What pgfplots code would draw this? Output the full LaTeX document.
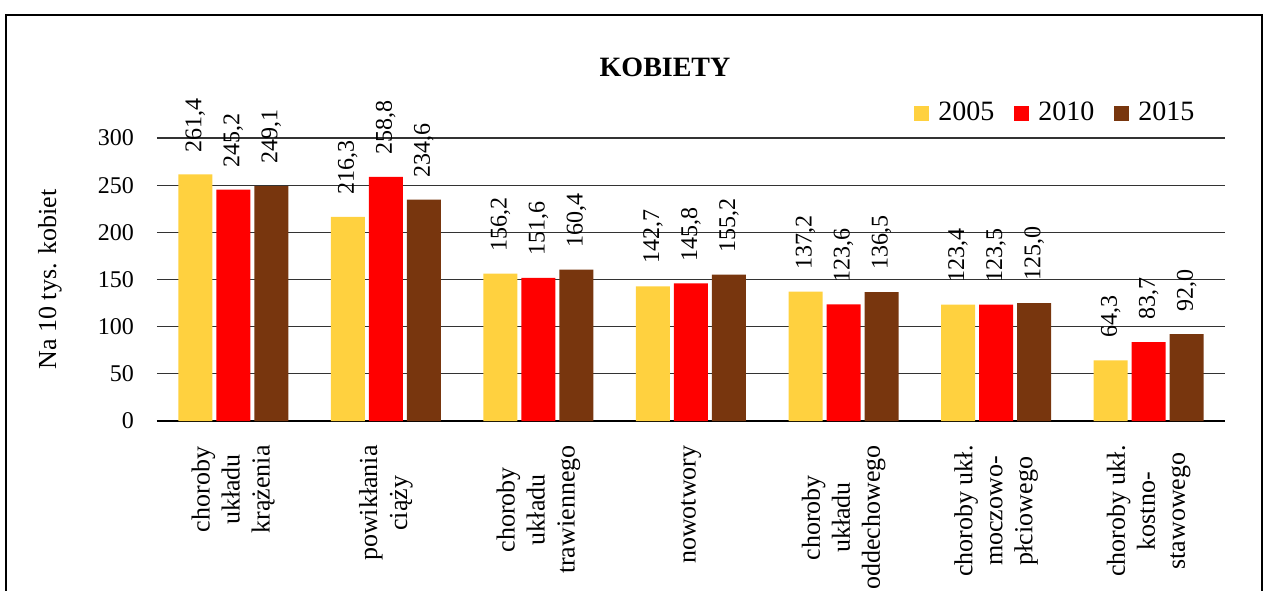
\documentclass[border=0pt]{standalone}
\usepackage{pgfplots}
\pgfplotsset{compat=1.18}
\usepackage{fontspec}
\setmainfont{Liberation Serif}

\definecolor{c2005}{HTML}{FFD13F}
\definecolor{c2010}{HTML}{FF0000}
\definecolor{c2015}{HTML}{78360E}

\pgfplotsset{/pgf/number format/assume math mode=true}

\begin{document}
\begin{tikzpicture}
  \useasboundingbox (-78.5pt,-84.5pt) rectangle (556.5pt,210.5pt);
  \clip (-78.5pt,-84.5pt) rectangle (556.5pt,210.5pt);
  \draw[line width=1.2pt] (-75.5pt,-100pt) -- (-75.5pt,203pt) -- (552.5pt,203pt) -- (552.5pt,-100pt);
  \begin{axis}[
      at={(0pt,0pt)}, anchor=south west,
      scale only axis,
      width=534pt, height=141.5pt,
      ybar=2pt,
      bar width=17pt,
      clip=false,
      xmin=-0.5, xmax=6.5,
      ymin=0, ymax=300,
      ytick={0,50,...,300},
      xtick=data,
      xticklabels={{choroby\\układu\\krążenia},{powikłania\\ciąży},{choroby\\układu\\trawiennego},{nowotwory},{choroby\\układu\\oddechowego},{choroby ukł.\\moczowo-\\płciowego},{choroby ukł.\\kostno-\\stawowego}},
      xticklabel style={rotate=90, anchor=east, align=center, inner xsep=12pt, font=\fontsize{13}{15}\selectfont},
      yticklabel style={font=\fontsize{12}{14}\selectfont, xshift=-8pt},
      major tick length=0pt,
      axis x line*=bottom, axis y line*=left,
      y axis line style={draw=none},
      x axis line style={line width=1pt},
      ymajorgrids,
      grid style={black!80, line width=0.6pt},
      ylabel={Na 10 tys. kobiet},
      ylabel style={at={(axis description cs:-0.1002,0.5)}, anchor=center, rotate=0, font=\fontsize{13}{15}\selectfont},
      title={KOBIETY},
      title style={at={(axis description cs:0.4757,1.208)}, anchor=center, font=\bfseries\fontsize{14}{16}\selectfont},
      legend columns=3,
      legend style={at={(axis description cs:0.981,1.088)}, anchor=east, draw=none, fill=none,
        font=\fontsize{14}{16}\selectfont,
        /tikz/every odd column/.append style={column sep=2.5pt},
        /tikz/every even column/.append style={column sep=8pt}},
      legend image code/.code={\path[#1,draw=none] (0pt,-3.75pt) rectangle (7.5pt,3.75pt);},
      nodes near coords={\pgfmathprintnumber[fixed,fixed zerofill,precision=1,use comma]{\pgfplotspointmeta}},
      every node near coord/.append style={rotate=90, anchor=west, inner xsep=11pt, font=\fontsize{12}{14}\selectfont, black},
    ]
    \addplot[fill=c2005, draw=none] coordinates {(0,261.4) (1,216.3) (2,156.2) (3,142.7) (4,137.2) (5,123.4) (6,64.3)};
    \addplot[fill=c2010, draw=none] coordinates {(0,245.2) (1,258.8) (2,151.6) (3,145.8) (4,123.6) (5,123.5) (6,83.7)};
    \addplot[fill=c2015, draw=none] coordinates {(0,249.1) (1,234.6) (2,160.4) (3,155.2) (4,136.5) (5,125.0) (6,92.0)};
    \legend{2005,2010,2015}
  \end{axis}
\end{tikzpicture}
\end{document}
